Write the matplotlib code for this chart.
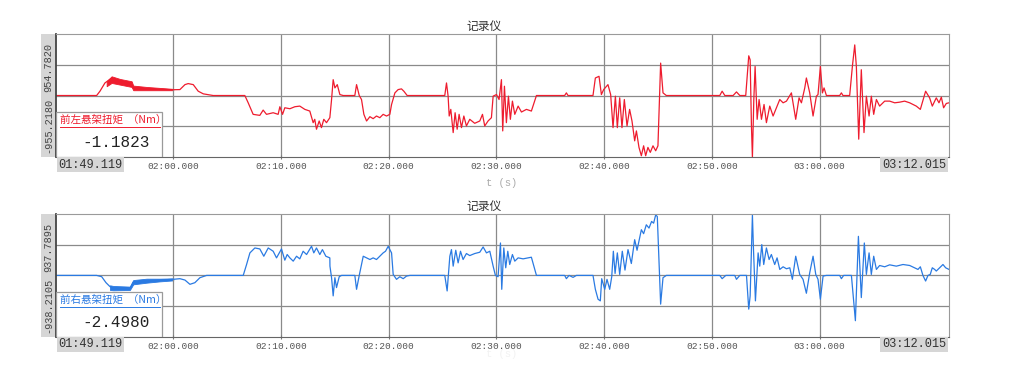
import matplotlib
matplotlib.use("Agg")
import matplotlib.pyplot as plt
from matplotlib.patches import Rectangle

plt.rcParams['font.family'] = ['Noto Sans CJK SC', 'DejaVu Sans']

T_START, T_END = 109.119, 192.015

# ---- 前左悬架扭矩 (red) ----
left_t = [109.12, 112.89, 113.20, 113.66, 114.28, 115.06, 116.14, 116.29, 117.53, 118.77,
          120.00, 120.62, 121.09, 121.39, 121.86, 122.32, 122.79, 123.71, 126.65, 126.96,
          127.42, 128.04, 128.35, 128.66, 129.28, 129.74, 129.90, 130.15, 130.36, 130.83,
          131.29, 131.75, 132.22, 132.68, 132.99, 133.14, 133.30, 133.55, 133.76, 133.98,
          134.23, 134.54,
          134.70, 134.85, 135.01, 135.23, 135.47, 135.78, 136.86, 137.02, 137.27, 137.48,
          137.70, 137.95, 138.26, 138.56, 138.87, 139.18, 139.49, 139.80, 140.11, 140.27,
          140.58, 140.88, 141.19, 141.41, 141.72, 145.21, 145.37, 145.52, 145.62, 145.77,
          145.99, 146.17, 146.36, 146.54, 146.76, 146.98, 147.22, 147.53, 147.99, 148.46,
          148.71, 148.92, 149.23, 149.54, 149.70, 150.01, 150.25, 150.47, 150.59, 150.75,
          150.93, 151.12, 151.30, 151.49, 151.71, 152.02, 152.33, 152.79, 153.25, 153.72,
          156.34, 156.50, 156.65, 158.97, 159.19, 159.53, 159.75, 159.96, 160.36, 160.61,
          160.83, 161.05, 161.23, 161.45, 161.66, 161.88, 162.13, 162.37, 162.59, 162.84,
          163.00, 163.24, 163.46, 163.67, 163.86, 164.07, 164.29, 164.54, 164.79, 165.00,
          165.25, 165.47, 165.78,
          170.74, 170.96, 171.21, 171.98, 172.29, 172.60, 173.15, 173.43, 173.56, 173.68,
          173.77, 173.90, 174.02, 174.21, 174.39, 174.61, 174.85, 175.07, 175.38, 175.69,
          176.00, 176.31, 176.62, 176.93, 177.39, 177.79, 178.10, 178.32, 178.63, 178.78,
          179.09, 179.40, 179.71, 179.86, 180.08, 180.27, 180.42, 180.64, 181.87, 182.03,
          182.18, 182.80, 183.05, 183.27, 183.42, 183.64, 183.88, 184.13, 184.35, 184.60,
          184.81, 185.03, 185.28, 185.58, 186.05, 186.51, 186.98, 187.44, 187.90, 188.37,
          188.98, 189.36, 189.85, 190.22, 190.47, 190.84, 191.09, 191.31, 191.52, 191.77,
          192.02]
left_v = [0, 0, 67, 195, 270, 220, 190, 110, 100, 95,
          90, 92, 169, 185, 169, 67, 26, 0, 0, -113,
          -292, -308, -226, -292, -267, -292, -174, -292, -190, -205,
          -174, -164, -215, -241, -421, -369, -523, -395, -498, -369,
          -421, -344,
          -62, 246, 118, 169, 15, 0, 0, 169, 0, -62,
          -292, -395, -328, -359, -318, -344, -292, -318, -292, -139,
          41, 92, 103, 67, 0, 0, 195, -10, -318, -215,
          -575, -267, -523, -292, -498, -318, -472, -369, -431, -395,
          -292, -472, -395, -344, -10, 15, -62, 246, -549, 144,
          -421, -10, -369, -87, -292, -164, -256, -215, -241, 0,
          0, 41, 0, 0, 272, 298, 15, 92, 169, 15,
          -498, -10, -498, -36, -498, -62, -472, -215, -395, -703,
          -549, -805, -934, -780, -934, -805, -882, -780, -857, -780,
          503, 41, 0,
          0, 67, 0, 0, 56, 0, 0, 616, 554, -472,
          -960, -62, 451, -369, -62, -369, -139, -421, -164, -318,
          -190, -62, -113, -87, 41, -369, -36, -113, 118, 272,
          41, -318, -10, 15, 451, 41, 118, 0, 0, 41,
          0, 0, 451, 785, 451, -677, 400, -575, -10, -318,
          -10, -292, -62, -164, -87, -87, -113, -103, -87, -113,
          -164, -215, 67, -36, -164, -36, -113, -26, -190, -123,
          -113]
# thick high-frequency band (envelope) at the start
left_band_t = [113.82, 114.28, 115.06, 116.14, 116.29, 117.53, 118.77, 120.00]
left_band_lo = [144, 195, 169, 133, 82, 82, 82, 82]
left_band_hi = [221, 298, 257, 221, 154, 133, 118, 103]

# ---- 前右悬架扭矩 (blue) ----
right_t = [109.12, 112.89, 113.36, 113.76, 114.13, 114.44, 115.21, 115.98, 116.29, 117.53,
           118.77, 120.00, 120.62, 121.09, 121.55, 122.01, 122.48, 123.10, 126.50, 126.81,
           127.12, 127.58, 128.04, 128.41, 128.82, 129.28, 129.59, 130.05, 130.36, 130.58,
           130.83, 131.14, 131.45, 131.75, 132.06, 132.38, 132.84, 133.05, 133.30, 133.61,
           133.85, 134.17, 134.54,
           134.55, 134.70, 134.85, 135.01, 135.16, 135.41, 135.63, 136.86, 137.02, 137.27,
           137.64, 137.95, 138.26, 138.56, 138.87, 139.18, 139.49, 139.71, 139.96, 140.11,
           140.27, 140.42, 140.73, 141.04, 141.35, 141.66, 141.97, 145.21, 145.43, 145.68,
           145.83, 145.99, 146.23, 146.45, 146.67, 146.91, 147.22, 147.53, 147.99, 148.46,
           148.77, 149.08, 149.39, 149.70, 149.91, 150.16, 150.38, 150.50, 150.69, 150.87,
           151.06, 151.24, 151.49, 151.71, 152.02, 152.48, 152.94, 153.25, 153.72, 156.34,
           156.50, 156.75, 157.12, 157.43, 158.97, 159.19, 159.44, 159.65, 159.78, 160.06,
           160.27, 160.52, 160.71, 160.86, 161.02, 161.23, 161.45, 161.69, 161.94, 162.22,
           162.53, 162.84, 163.06, 163.46, 163.67, 163.92, 164.17, 164.41, 164.60, 164.79,
           164.94, 165.25, 165.47, 165.78,
           170.74, 170.96, 171.30, 172.13, 172.29, 172.60, 173.22, 173.43, 173.56, 173.77,
           173.87, 174.05, 174.30, 174.45, 174.64, 174.82, 175.07, 175.32, 175.53, 175.84,
           176.06, 176.31, 176.62, 176.93, 177.24, 177.48, 177.79, 178.16, 178.47, 178.78,
           179.09, 179.40, 179.65, 179.86, 180.08, 180.33, 180.64, 181.87, 182.03, 182.24,
           182.96, 183.33, 183.61, 183.88, 184.16, 184.35, 184.60, 184.81, 185.03, 185.28,
           185.58, 186.05, 186.51, 187.13, 187.75, 188.37, 189.14, 189.36, 189.60, 189.85,
           190.07, 190.28, 190.47, 190.69, 190.84, 191.15, 191.46, 191.71, 192.02]
right_v = [0, 0, -20, -111, -171, -197, -202, -197, -101, -81,
           -71, -60, -50, -71, -136, -111, -35, 0, 0, 166,
           343, 418, 403, 292, 418, 368, 267, 403, 232, 318,
           267, 217, 292, 252, 368, 318, 444, 343, 418, 318,
           393, 292, 267,
           141, -35, -312, -35, -186, -20, 0, 0, -212, 0,
           292, 267, 242, 267, 242, 292, 343, 368, 444, 393,
           343, 15, -60, -20, -50, -10, 0, 0, -237, 292,
           393, 141, 383, 191, 368, 242, 333, 302, 333, 353,
           433, 343, 368, 141, 0, -20, 494, -212, 418, 116,
           368, 166, 318, 217, 267, 252, 267, 277, 0, 0,
           -50, 0, -30, 0, 0, -212, -363, -388, -50, -212,
           -60, -212, -20, 368, 30, 343, 15, 368, 81, 393,
           181, 544, 383, 696, 635, 771, 721, 822, 796, 922,
           897, -438, -35, 0,
           0, -50, 0, 0, -60, 0, 0, -514, -312, 922,
           393, -388, 343, 141, 469, 166, 418, 242, 318, 166,
           267, 91, 131, 101, 116, -60, 292, 15, -60, -272,
           40, 292, 15, -60, -363, -10, 0, 0, -50, 0,
           0, -690, 595, -338, 494, 15, 343, 15, 292, 91,
           151, 131, 161, 141, 166, 151, 91, 131, 0, -86,
           0, 15, 116, 91, 66, 116, 166, 116, 91]
right_band_t = [114.13, 114.44, 115.98, 116.29, 117.53, 118.77, 120.00]
right_band_lo = [-222, -227, -222, -136, -111, -91, -76]
right_band_hi = [-151, -161, -171, -71, -50, -50, -45]

x_ticks = [120, 130, 140, 150, 160, 170, 180]
x_tick_labels = ["02:00.000", "02:10.000", "02:20.000", "02:30.000",
                 "02:40.000", "02:50.000", "03:00.000"]

panels = [
    dict(t=left_t, v=left_v, bt=left_band_t, blo=left_band_lo, bhi=left_band_hi,
         ymin=-955.218, ymax=954.782, ylab_lo="-955.2180", ylab_hi="954.7820",
         name="前左悬架扭矩  （Nm）", value="-1.1823", color="#ee1c2e", bottom=0.593),
    dict(t=right_t, v=right_v, bt=right_band_t, blo=right_band_lo, bhi=right_band_hi,
         ymin=-938.2105, ymax=937.7895, ylab_lo="-938.2105", ylab_hi="937.7895",
         name="前右悬架扭矩  （Nm）", value="-2.4980", color="#2a7ae2", bottom=0.127),
]

fig = plt.figure(figsize=(10.24, 3.86), dpi=100)
mono = "Liberation Mono"
ax_left, ax_w, ax_h = 0.0547, 0.872, 0.319

for p in panels:
    ax = fig.add_axes([ax_left, p["bottom"], ax_w, ax_h])
    ax.set_xlim(T_START, T_END)
    ax.set_ylim(p["ymin"], p["ymax"])
    span = p["ymax"] - p["ymin"]
    ax.set_yticks([p["ymin"] + span * k / 4 for k in (1, 2, 3)])
    ax.set_yticklabels([])
    ax.set_xticks(x_ticks)
    ax.set_xticklabels(x_tick_labels, fontfamily=mono, fontsize=6.8, color="#555555")
    ax.tick_params(axis="y", length=0)
    ax.tick_params(axis="x", length=3, direction="inout", color="#777777", pad=2)
    ax.grid(True, color="#8a8a8a", linewidth=0.9)
    for side in ("top", "right"):
        ax.spines[side].set_color("#9a9a9a")
    ax.spines["left"].set_color("#444444")
    ax.spines["bottom"].set_color("#666666")
    ax.spines["left"].set_linewidth(1.3)

    ax.fill_between(p["bt"], p["blo"], p["bhi"], color=p["color"], linewidth=0.6)
    ax.plot(p["t"], p["v"], color=p["color"], linewidth=0.9)

    ax.set_title("记录仪", fontsize=8.5, color="#333333", pad=3, x=0.48)

    # gray strip with the y range labels
    ax.add_patch(Rectangle((-0.017, 0), 0.017, 1, transform=ax.transAxes,
                           facecolor="#d6d6d6", edgecolor="none", clip_on=False))
    ax.text(-0.0085, 0.73, p["ylab_hi"], transform=ax.transAxes, rotation=90,
            ha="center", va="center", fontfamily=mono, fontsize=7.4, color="#444444")
    ax.text(-0.0085, 0.26, p["ylab_lo"], transform=ax.transAxes, rotation=90,
            ha="center", va="center", fontfamily=mono, fontsize=7.4, color="#444444")

    # start / end time boxes
    ax.text(0.003, -0.012, "01:49.119", transform=ax.transAxes, ha="left", va="top",
            fontfamily=mono, fontsize=8.6, color="#333333",
            bbox=dict(facecolor="#d6d6d6", edgecolor="none", pad=1.2))
    ax.text(0.997, -0.012, "03:12.015", transform=ax.transAxes, ha="right", va="top",
            fontfamily=mono, fontsize=8.6, color="#333333",
            bbox=dict(facecolor="#d6d6d6", edgecolor="none", pad=1.2))

    # legend / readout box
    ax.add_patch(Rectangle((0, 0), 0.119, 0.366, transform=ax.transAxes,
                           facecolor="white", edgecolor="#9a9a9a", linewidth=0.9, zorder=5))
    ax.text(0.004, 0.30, p["name"], transform=ax.transAxes, ha="left", va="center",
            fontsize=7.6, color=p["color"], zorder=6)
    ax.plot([0.004, 0.116], [0.245, 0.245], transform=ax.transAxes,
            color=p["color"], linewidth=0.7, zorder=6)
    ax.text(0.105, 0.12, p["value"], transform=ax.transAxes, ha="right", va="center",
            fontfamily=mono, fontsize=11.5, color="#222222", zorder=6)

fig.text(0.49, 0.525, "t (s)", ha="center", va="center", fontfamily=mono,
         fontsize=7.5, color="#aaaaaa")
fig.text(0.49, 0.083, "t (s)", ha="center", va="center", fontfamily=mono,
         fontsize=7.5, color="#f2f2f2")

fig.savefig("out.png", dpi=100, facecolor="white")
